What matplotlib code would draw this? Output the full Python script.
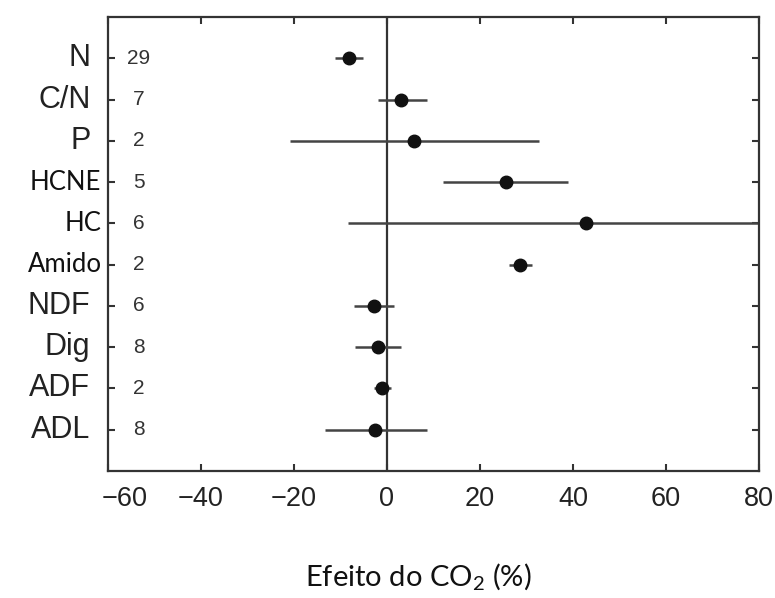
import matplotlib
matplotlib.use("Agg")
import matplotlib.pyplot as plt
import matplotlib.transforms as mtransforms

categories = ["N", "C/N", "P", "HCNE", "HC", "Amido", "NDF", "Dig", "ADF", "ADL"]
counts = ["29", "7", "2", "5", "6", "2", "6", "8", "2", "8"]
effect = [-8.1, 3.1, 5.7, 25.5, 42.9, 28.7, -2.9, -1.9, -1.0, -2.5]
ci_low = [-11.1, -2.0, -20.8, 12.1, -8.3, 26.3, -7.0, -6.8, -2.9, -13.4]
ci_high = [-5.1, 8.6, 32.6, 39.0, 95.0, 31.1, 1.4, 3.1, 0.9, 8.7]
calibri_like = {"HCNE", "HC", "Amido"}
xticks = [-60, -40, -20, 0, 20, 40, 60, 80]

plt.rcParams['mathtext.fontset'] = 'custom'
plt.rcParams['mathtext.rm'] = 'Lato'
plt.rcParams['mathtext.it'] = 'Lato:italic'

fig = plt.figure(figsize=(7.75, 5.98), dpi=100)
ax = fig.add_axes([108/775, 1-471/598, (759-108)/775, (471-17)/598])

n = len(categories)
ypos = list(range(n, 0, -1))

ax.axvline(0, color="#333333", lw=1.6, zorder=1)
for y, lo, hi in zip(ypos, ci_low, ci_high):
    ax.plot([lo, hi], [y, y], color="#444444", lw=1.8, solid_capstyle="butt", zorder=2)
ax.plot(effect, ypos, "o", color="#111111", ms=9, zorder=3)

ax.set_xlim(-60, 80)
ax.set_ylim(0, 11)
ax.set_xticks(xticks)
tick_texts = [("\u2212" + str(abs(t))) if t < 0 else str(t) for t in xticks]
# first label sits slightly to the right of its tick in the reference
ax.set_xticklabels([""] + tick_texts[1:], fontfamily="Liberation Sans",
                   fontsize=19.5, color="#222222")
ax.annotate(tick_texts[0], xy=(xticks[0], 0), xycoords=("data", "axes fraction"),
            xytext=(12, -11), textcoords="offset points", ha="center", va="top",
            fontfamily="Liberation Sans", fontsize=19.5, color="#222222")
ax.set_yticks(ypos)
ax.set_yticklabels([])
ax.tick_params(axis="x", direction="in", length=5, width=1.5, color="#333333",
               top=True, bottom=True, pad=11)
ax.tick_params(axis="y", direction="in", length=5, width=1.5, color="#333333",
               left=True, right=True)
for s in ax.spines.values():
    s.set_linewidth(1.6)
    s.set_color("#333333")

trans = mtransforms.blended_transform_factory(ax.transAxes, ax.transData)
for y, cat, c in zip(ypos, categories, counts):
    if cat in calibri_like:
        ax.text(-0.010, y, cat, transform=trans, ha="right", va="center",
                fontfamily="Lato", fontsize=18.5, color="#111111")
    else:
        ax.text(-0.027, y, cat, transform=trans, ha="right", va="center",
                fontfamily="Liberation Sans", fontsize=22, color="#222222")
    ax.text(-53.4, y, c, ha="center", va="center", fontfamily="Liberation Sans",
            fontsize=15, color="#333333")

fig.text(418/775, 1-576/598, r"Efeito do CO$_\mathrm{2}$ (%)", ha="center", va="center",
         fontfamily="Lato", fontsize=21, color="#111111")

fig.savefig("out.png", dpi=100, facecolor="white")
